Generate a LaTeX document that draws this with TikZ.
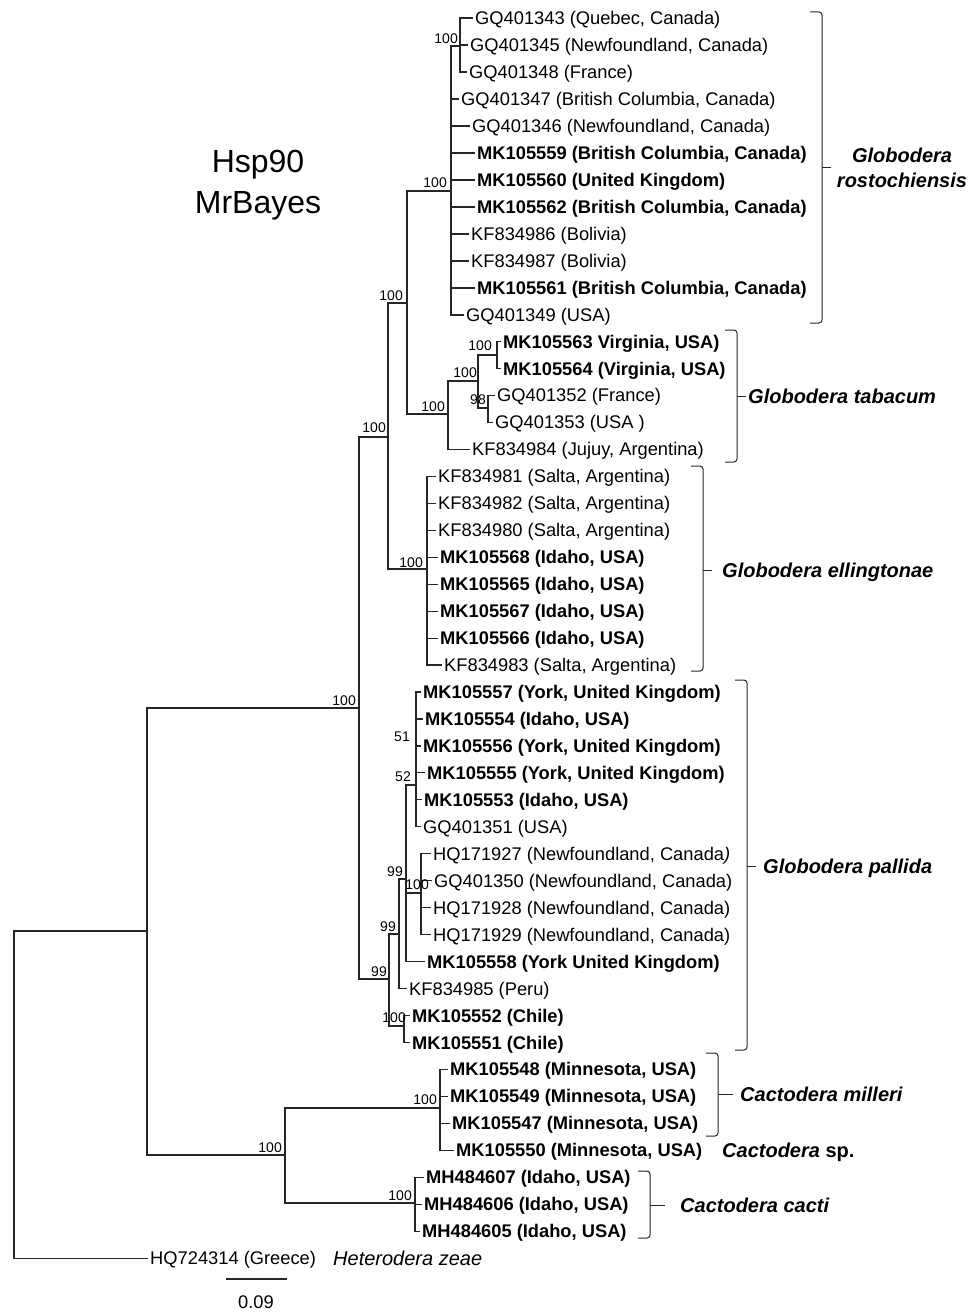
\documentclass[tikz,border=0pt]{standalone}
\usepackage{fontspec}
\setmainfont{Liberation Sans}
\begin{document}
\begin{tikzpicture}[x=1pt,y=-1pt,
  br/.style={line width=1.1pt, draw=black!85},
  leaf/.style={anchor=west, inner xsep=2.5pt, inner ysep=0pt, text height=13pt, text depth=0pt, font=\fontsize{18.3}{20}\selectfont},
  bleaf/.style={leaf, font=\fontsize{18.3}{20}\selectfont\bfseries},
  supp/.style={anchor=south east, inner sep=0pt, font=\fontsize{14}{16}\selectfont},
  spec/.style={anchor=west, inner sep=0pt, text height=14.3pt, text depth=0pt, font=\fontsize{20}{25}\selectfont\bfseries\itshape},
  brk/.style={line width=1pt, draw=black!85, rounded corners=3pt}]
\useasboundingbox (0,0) rectangle (973,1314);

% title
\node[align=center, font=\fontsize{32}{41}\selectfont, inner sep=0pt] (title) at (258,185) {Hsp90\\MrBayes};

% leaves
\node[leaf]  (l1)  at (472.5,18)     {GQ401343 (Quebec, Canada)};
\node[leaf]  (l2)  at (467.5,45)     {GQ401345 (Newfoundland, Canada)};
\node[leaf]  (l3)  at (466.5,72)     {GQ401348 (France)};
\node[leaf]  (l4)  at (458.5,99)     {GQ401347 (British Columbia, Canada)};
\node[leaf]  (l5)  at (469.5,126)    {GQ401346 (Newfoundland, Canada)};
\node[bleaf] (l6)  at (474.5,153)    {MK105559 (British Columbia, Canada)};
\node[bleaf] (l7)  at (474.5,180)    {MK105560 (United Kingdom)};
\node[bleaf] (l8)  at (474.5,207)    {MK105562 (British Columbia, Canada)};
\node[leaf]  (l9)  at (468.5,234)    {KF834986 (Bolivia)};
\node[leaf]  (l10) at (468.5,261)    {KF834987 (Bolivia)};
\node[bleaf] (l11) at (474.5,288)    {MK105561 (British Columbia, Canada)};
\node[leaf]  (l12) at (463.5,315)    {GQ401349 (USA)};
\node[bleaf] (l13) at (500.5,341.5)  {MK105563 Virginia, USA)};
\node[bleaf] (l14) at (500.5,368.5)  {MK105564 (Virginia, USA)};
\node[leaf]  (l15) at (494.5,395.4)  {GQ401352 (France)};
\node[leaf]  (l16) at (492.5,422.4)  {GQ401353 (USA )};
\node[leaf]  (l17) at (469.5,449.4)  {KF834984 (Jujuy, Argentina)};
\node[leaf]  (l18) at (435.5,476.3)  {KF834981 (Salta, Argentina)};
\node[leaf]  (l19) at (435.5,503.3)  {KF834982 (Salta, Argentina)};
\node[leaf]  (l20) at (435.5,530.2)  {KF834980 (Salta, Argentina)};
\node[bleaf] (l21) at (437.5,557.2)  {MK105568 (Idaho, USA)};
\node[bleaf] (l22) at (437.5,584.2)  {MK105565 (Idaho, USA)};
\node[bleaf] (l23) at (437.5,611.1)  {MK105567 (Idaho, USA)};
\node[bleaf] (l24) at (437.5,638.1)  {MK105566 (Idaho, USA)};
\node[leaf]  (l25) at (441.5,665)    {KF834983 (Salta, Argentina)};
\node[bleaf] (l26) at (420.5,692)    {MK105557 (York, United Kingdom)};
\node[bleaf] (l27) at (422.5,719)    {MK105554 (Idaho, USA)};
\node[bleaf] (l28) at (420.5,746)    {MK105556 (York, United Kingdom)};
\node[bleaf] (l29) at (424.5,772.9)  {MK105555 (York, United Kingdom)};
\node[bleaf] (l30) at (421.5,799.8)  {MK105553 (Idaho, USA)};
\node[leaf]  (l31) at (420.5,826.8)  {GQ401351 (USA)};
\node[leaf]  (l32) at (430.5,853.8)  {HQ171927 (Newfoundland, Canada\textit{)}};
\node[leaf]  (l33) at (431.5,880.7)  {GQ401350 (Newfoundland, Canada)};
\node[leaf]  (l34) at (430.5,907.7)  {HQ171928 (Newfoundland, Canada)};
\node[leaf]  (l35) at (430.5,934.6)  {HQ171929 (Newfoundland, Canada)};
\node[bleaf] (l36) at (424.5,961.6)  {MK105558 (York United Kingdom)};
\node[leaf]  (l37) at (406.5,988.6)  {KF834985 (Peru)};
\node[bleaf] (l38) at (409.5,1015.5) {MK105552 (Chile)};
\node[bleaf] (l39) at (409.5,1042.5) {MK105551 (Chile)};
\node[bleaf] (l40) at (447.5,1069.4) {MK105548 (Minnesota, USA)};
\node[bleaf] (l41) at (447.5,1096.4) {MK105549 (Minnesota, USA)};
\node[bleaf] (l42) at (449.5,1123.4) {MK105547 (Minnesota, USA)};
\node[bleaf] (l43) at (453.5,1150.3) {MK105550 (Minnesota, USA)};
\node[bleaf] (l44) at (423.5,1177.3) {MH484607 (Idaho, USA)};
\node[bleaf] (l45) at (421.5,1204.2) {MH484606 (Idaho, USA)};
\node[bleaf] (l46) at (419.5,1231.2) {MH484605 (Idaho, USA)};
\node[leaf]  (l47) at (147.5,1258.2) {HQ724314 (Greece)};

% internal nodes
\coordinate (n1)   at (460,46);
\coordinate (nD)   at (451,191);
\coordinate (nG)   at (497,355);
\coordinate (n98)  at (488,408);
\coordinate (nF)   at (478,381);
\coordinate (nE)   at (448,414);
\coordinate (nC)   at (407,303);
\coordinate (nH)   at (427,569);
\coordinate (nB)   at (388,437);
\coordinate (n52)  at (416,785);
\coordinate (nR)   at (421,893);
\coordinate (nQb)  at (406,879);
\coordinate (nQ)   at (399,934);
\coordinate (nCh)  at (404,1026);
\coordinate (nP)   at (389,979);
\coordinate (nA)   at (359,708);
\coordinate (nM)   at (440,1108);
\coordinate (nK)   at (415,1203);
\coordinate (nCa)  at (285,1155);
\coordinate (nRt2) at (147,931);
\coordinate (nRt)  at (14,1100);

% branches
\foreach \c in {l1,l2,l3} \draw[br] (n1) |- (\c.west);
\draw[br] (nD) |- (n1);
\foreach \c in {l4,l5,l6,l7,l8,l9,l10,l11,l12} \draw[br] (nD) |- (\c.west);
\foreach \c in {l13,l14} \draw[br] (nG) |- (\c.west);
\foreach \c in {l15,l16} \draw[br] (n98) |- (\c.west);
\draw[br] (nF) |- (nG);
\draw[br] (nF) |- (n98);
\draw[br] (nE) |- (nF);
\draw[br] (nE) |- (l17.west);
\draw[br] (nC) |- (nD);
\draw[br] (nC) |- (nE);
\foreach \c in {l18,l19,l20,l21,l22,l23,l24,l25} \draw[br] (nH) |- (\c.west);
\draw[br] (nB) |- (nC);
\draw[br] (nB) |- (nH);
\foreach \c in {l26,l27,l28,l29,l30,l31} \draw[br] (n52) |- (\c.west);
\foreach \c in {l32,l33,l34,l35} \draw[br] (nR) |- (\c.west);
\draw[br] (nQb) |- (n52);
\draw[br] (nQb) |- (nR);
\draw[br] (nQb) |- (l36.west);
\draw[br] (nQ) |- (nQb);
\draw[br] (nQ) |- (l37.west);
\foreach \c in {l38,l39} \draw[br] (nCh) |- (\c.west);
\draw[br] (nP) |- (nQ);
\draw[br] (nP) |- (nCh);
\draw[br] (nA) |- (nB);
\draw[br] (nA) |- (nP);
\foreach \c in {l40,l41,l42,l43} \draw[br] (nM) |- (\c.west);
\foreach \c in {l44,l45,l46} \draw[br] (nK) |- (\c.west);
\draw[br] (nCa) |- (nM);
\draw[br] (nCa) |- (nK);
\draw[br] (nRt2) |- (nA);
\draw[br] (nRt2) |- (nCa);
\draw[br] (nRt) |- (nRt2);
\draw[br] (nRt) |- (l47.west);

% support values
\node[supp] (s1)  at (458,44)   {100};
\node[supp] (s2)  at (447,188)  {100};
\node[supp] (s3)  at (403,301)  {100};
\node[supp] (s4)  at (386,433)  {100};
\node[supp] (s5)  at (445,412)  {100};
\node[supp] (s6)  at (477,378)  {100};
\node[supp] (s7)  at (492,351)  {100};
\node[supp] (s8)  at (486,405)  {98};
\node[supp] (s9)  at (423,568)  {100};
\node[supp] (s10) at (356,706)  {100};
\node[supp] (s11) at (410,742)  {51};
\node[supp] (s12) at (411,782)  {52};
\node[supp] (s13) at (429,890)  {100};
\node[supp] (s14) at (403,877)  {99};
\node[supp] (s15) at (396,932)  {99};
\node[supp] (s16) at (387,977)  {99};
\node[supp] (s17) at (406,1023) {100};
\node[supp] (s18) at (282,1153) {100};
\node[supp] (s19) at (437,1105) {100};
\node[supp] (s20) at (412,1201) {100};

% brackets
\draw[brk] (810,12) -- (822,12) -- (822,323) -- (810,323);
\draw[brk] (822,167) -- (831,167);
\draw[brk] (725,330) -- (737,330) -- (737,462) -- (725,462);
\draw[brk] (737,396) -- (746,396);
\draw[brk] (691,466) -- (703,466) -- (703,671) -- (691,671);
\draw[brk] (703,570) -- (712,570);
\draw[brk] (735,680) -- (747,680) -- (747,1050) -- (735,1050);
\draw[brk] (747,866) -- (756,866);
\draw[brk] (706,1053) -- (718,1053) -- (718,1136) -- (706,1136);
\draw[brk] (718,1094) -- (733,1094);
\draw[brk] (638,1171) -- (650,1171) -- (650,1238) -- (638,1238);
\draw[brk] (650,1205) -- (665,1205);

% species labels
\node[font=\fontsize{20}{25}\selectfont\bfseries\itshape, align=center, inner sep=0pt] (gr) at (902,168) {Globodera\\rostochiensis};
\node[spec] (gt) at (748,396)  {Globodera tabacum};
\node[spec] (ge) at (722,570)  {Globodera ellingtonae};
\node[spec] (gp) at (763,866)  {Globodera pallida};
\node[spec] (cm) at (740,1094) {Cactodera milleri};
\node[spec] (cs) at (722,1150) {Cactodera \upshape sp.};
\node[spec] (cc) at (680,1205) {Cactodera cacti};
\node[anchor=west, inner sep=0pt, text height=14.3pt, text depth=0pt, font=\fontsize{20}{25}\selectfont\itshape] (hz) at (333,1258) {Heterodera zeae};

% scale bar
\coordinate (sb1) at (226,1279);
\coordinate (sb2) at (287,1279);
\draw[br] (sb1) -- (sb2);
\node[inner sep=0pt, font=\fontsize{18.3}{20}\selectfont] (sbl) at (256,1302) {0.09};
\end{tikzpicture}
\end{document}
